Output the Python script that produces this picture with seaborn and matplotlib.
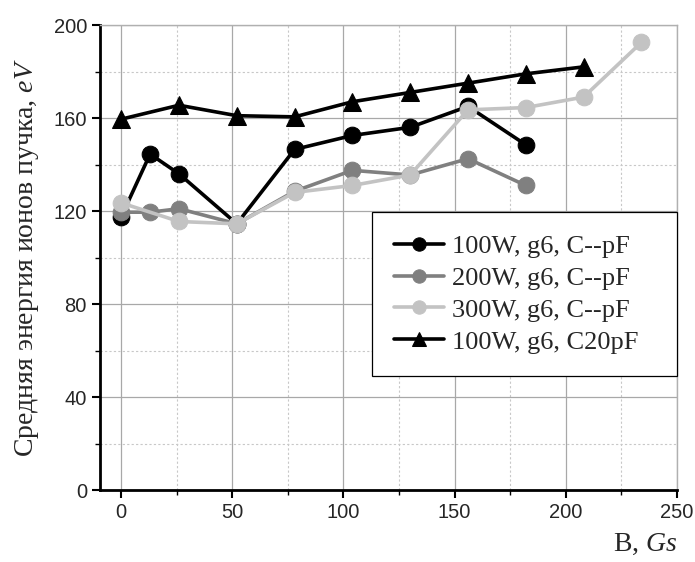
import numpy as np
import pandas as pd
import matplotlib
matplotlib.use("Agg")
import matplotlib.pyplot as plt
from matplotlib.ticker import MultipleLocator
import seaborn as sns

# Data
x_100 = [0, 13, 26, 52, 78, 104, 130, 156, 182]
y_100 = [117.5, 144.5, 136.0, 114.5, 146.5, 152.5, 156.0, 165.0, 148.5]
x_200 = [0, 13, 26, 52, 78, 104, 130, 156, 182]
y_200 = [119.5, 119.5, 121.0, 114.5, 128.5, 137.5, 135.5, 142.5, 131.0]
x_300 = [0, 26, 52, 78, 104, 130, 156, 182, 208, 234]
y_300 = [123.5, 115.5, 114.5, 128.0, 131.0, 135.5, 163.5, 164.5, 169.0, 192.5]
x_c20 = [0, 26, 52, 78, 104, 130, 156, 182, 208]
y_c20 = [159.5, 165.5, 161.0, 160.5, 167.0, 171.0, 175.0, 179.0, 182.0]

labels = ["100W, g6, C--pF", "200W, g6, C--pF", "300W, g6, C--pF", "100W, g6, C20pF"]
colors = ["#000000", "#808080", "#c3c3c3", "#000000"]
markers = ["o", "o", "o", "^"]

sns.set_style("white")
plt.rcParams["font.family"] = ["Liberation Sans", "DejaVu Sans"]
plt.rcParams["mathtext.fontset"] = "custom"
plt.rcParams["mathtext.it"] = "Liberation Serif:italic"
plt.rcParams["mathtext.rm"] = "Liberation Serif"

fig = plt.figure(figsize=(6.95, 5.62), dpi=100)
ax = fig.add_axes([0.144, 0.128, 0.830, 0.8275])

series = [(x_100, y_100), (x_200, y_200), (x_300, y_300), (x_c20, y_c20)]
for (xs, ys), lab, col, mk in zip(series, labels, colors, markers):
    df = pd.DataFrame({"B": xs, "E": ys})
    sns.lineplot(data=df, x="B", y="E", ax=ax, color=col, marker=mk,
                 markersize=12 if mk == "o" else 13, markeredgecolor=col,
                 markerfacecolor=col, linewidth=2.6, label=lab, zorder=3)

ax.set_xlim(-9.5, 250)
ax.set_ylim(0, 200)
ax.xaxis.set_major_locator(MultipleLocator(50))
ax.xaxis.set_minor_locator(MultipleLocator(25))
ax.yaxis.set_major_locator(MultipleLocator(40))
ax.yaxis.set_minor_locator(MultipleLocator(20))
ax.grid(which="major", color="#a8a8a8", linewidth=0.9, linestyle="-")
ax.grid(which="minor", color="#c8c8c8", linewidth=0.8, linestyle=(0, (2, 2)))
ax.set_axisbelow(True)

ax.tick_params(axis="both", which="major", direction="out", length=6, width=1.5,
               labelsize=14.5, color="black", bottom=True, left=True)
ax.tick_params(axis="both", which="minor", direction="out", length=3.5, width=1.0,
               color="black", bottom=True, left=True)

for s in ["left", "bottom"]:
    ax.spines[s].set_color("black")
    ax.spines[s].set_linewidth(2.0)
for s in ["top", "right"]:
    ax.spines[s].set_color("#b0b0b0")
    ax.spines[s].set_linewidth(1.0)

ax.set_ylabel(r"Средняя энергия ионов пучка, $\mathit{eV}$",
              family=["Liberation Serif", "DejaVu Serif"], fontsize=20, labelpad=9)
ax.set_xlabel(r"B, $\mathit{Gs}$", family=["Liberation Serif", "DejaVu Serif"],
              fontsize=20, loc="right", labelpad=7)

leg = ax.legend(loc="upper left", bbox_to_anchor=(0.471, 0.258, 0.529, 0.340),
                mode="expand", frameon=True,
                fancybox=False, edgecolor="black", framealpha=1,
                prop={"family": "Liberation Serif", "size": 19},
                handlelength=1.9, handletextpad=0.3, labelspacing=0.32,
                borderpad=0.85, borderaxespad=0, markerscale=0.8)
leg.get_frame().set_linewidth(0.9)

fig.savefig("out.png", dpi=100)
